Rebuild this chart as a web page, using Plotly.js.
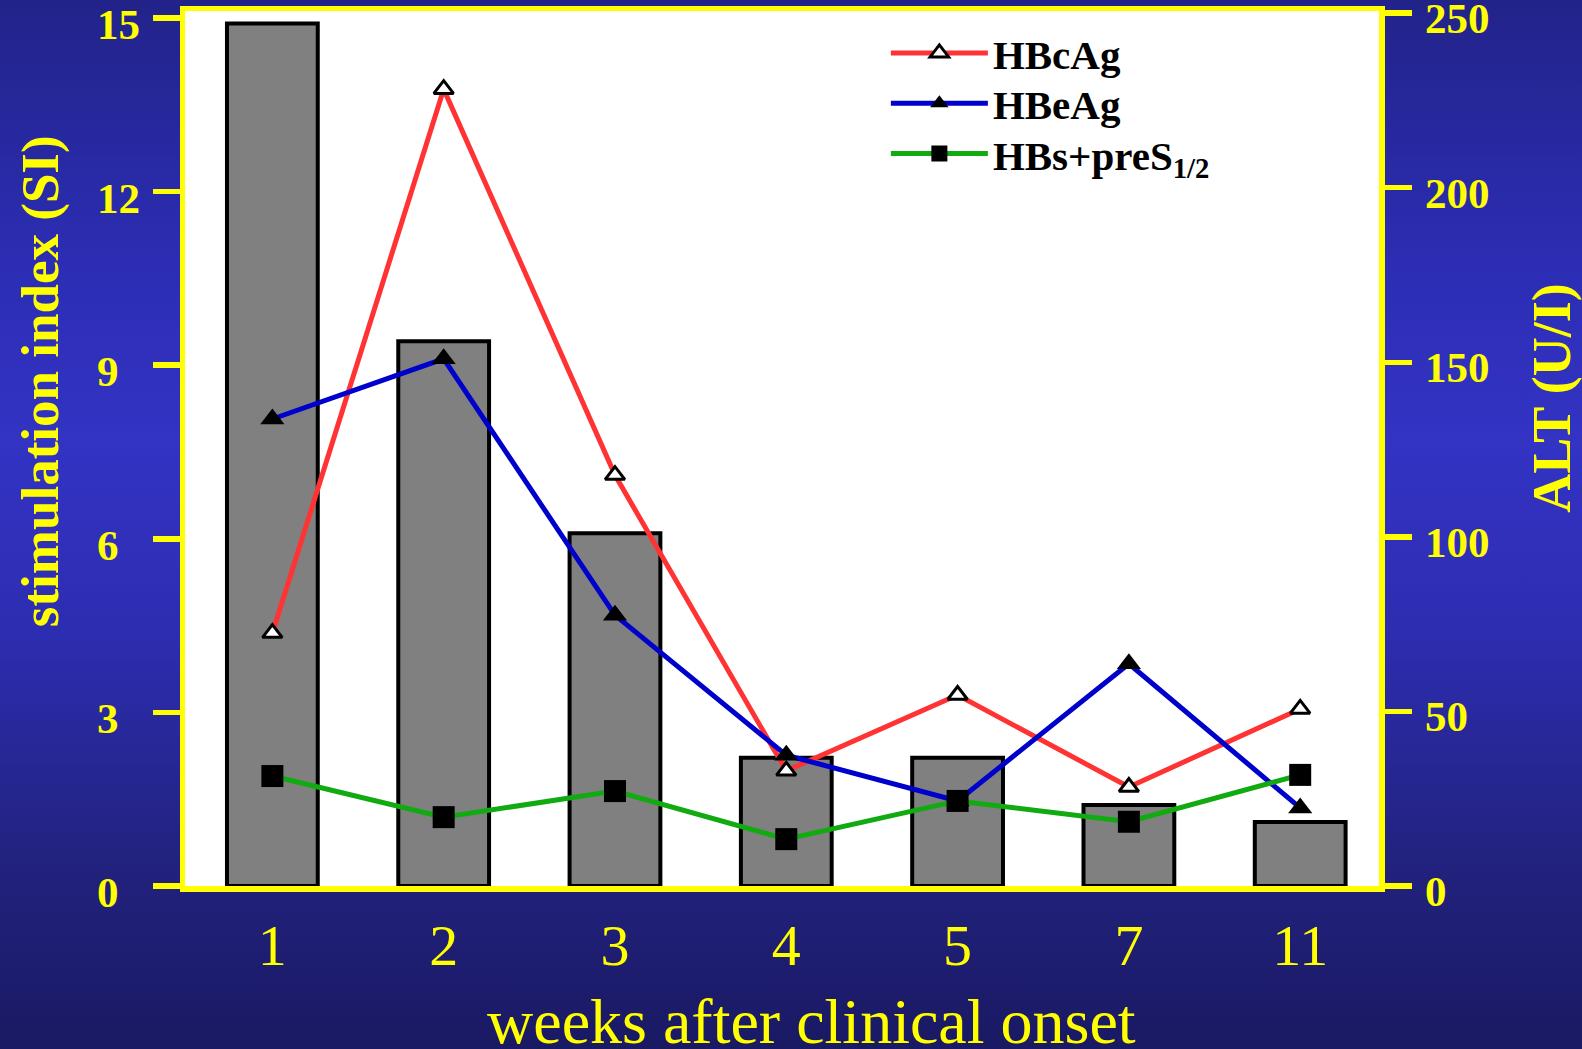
<!DOCTYPE html>
<html>
<head>
<meta charset="utf-8">
<script src="https://cdn.plot.ly/plotly-3.0.1.min.js"></script>
<style>
  html, body { margin: 0; padding: 0; overflow: hidden; }
  body {
    width: 1582px; height: 1049px;
    background: linear-gradient(to bottom, #222389 0%, #2c2db4 25%, #3333c4 42%, #2d2db2 60%, #22227f 82%, #1a1963 100%);
  }
  #chart { width: 1582px; height: 1049px; }
</style>
</head>
<body>
<div id="chart"></div>
<script>
// weeks after clinical onset (category labels)
const weeks = ['1', '2', '3', '4', '5', '7', '11'];
// ALT (U/l) – bars, right axis
const altValues = [247, 156, 101, 36.7, 36.7, 23.2, 18.3];
// stimulation index (SI) – lines, left axis
const hbcag = [4.37, 13.77, 7.10, 1.99, 3.30, 1.71, 3.06];
const hbeag = [8.07, 9.11, 4.68, 2.26, 1.47, 3.84, 1.35];
const hbsPreS = [1.90, 1.19, 1.64, 0.81, 1.47, 1.11, 1.92];

const seriesNames = ['HBcAg', 'HBeAg', 'HBs+preS<sub>1/2</sub>'];

// axis ticks and titles
const siTicks = [0, 3, 6, 9, 12, 15];
const siTickLabels = ['0', '3', '6', '9', '12', '15'];
const altTicks = [0, 50, 100, 150, 200, 250];
const altTickLabels = ['0', '50', '100', '150', '200', '250'];
const xTitle = 'weeks after clinical onset';
const leftTitle = 'stimulation index (SI)';
const rightTitle = 'ALT (U/I)';

const YELLOW = '#ffff00';
const SERIF = 'Liberation Serif, Times New Roman, serif';

// left labels in the original sit left-aligned: pad single digits with a figure space
const siTickText = siTickLabels.map(s => s.length === 1 ? s + '\u2007' : s);

const traces = [
  {
    type: 'bar', x: weeks, y: altValues, yaxis: 'y', width: 0.53,
    marker: { color: '#808080', line: { color: '#000000', width: 4 } },
    showlegend: false, hoverinfo: 'y'
  },
  {
    type: 'scatter', mode: 'lines+markers', name: seriesNames[0],
    x: weeks, y: hbcag, yaxis: 'y2', legend: 'legend',
    line: { color: '#ff3333', width: 5 },
    marker: { symbol: 'triangle-up', size: 17, color: '#ffffff', line: { color: '#000000', width: 3 } }
  },
  {
    type: 'scatter', mode: 'lines+markers', name: seriesNames[1],
    x: weeks, y: hbeag, yaxis: 'y2', legend: 'legend2',
    line: { color: '#0000cc', width: 5 },
    marker: { symbol: 'triangle-up', size: 21, color: '#000000' }
  },
  {
    type: 'scatter', mode: 'lines+markers', name: seriesNames[2],
    x: weeks, y: hbsPreS, yaxis: 'y2', legend: 'legend3',
    line: { color: '#11aa11', width: 5 },
    marker: { symbol: 'square', size: 22, color: '#000000' }
  }
];

function legendAt(y) {
  return {
    x: 0.587, y: y, xanchor: 'left', yanchor: 'top',
    bgcolor: 'rgba(0,0,0,0)', borderwidth: 0,
    font: { family: SERIF, size: 41, color: '#000000', weight: 'bold' },
    itemwidth: 97
  };
}

const layout = {
  width: 1582, height: 1049,
  margin: { l: 185, r: 203, t: 11, b: 163, pad: 0 },
  paper_bgcolor: 'rgba(0,0,0,0)',
  plot_bgcolor: '#ffffff',
  showlegend: true,
  legend: legendAt(0.990),
  legend2: legendAt(0.9326),
  legend3: legendAt(0.8750),
  xaxis: {
    type: 'category', range: [-0.51, 6.46],
    showline: true, linecolor: YELLOW, linewidth: 5.5, mirror: true,
    ticks: '', showgrid: false, zeroline: false, layer: 'below traces',
    tickfont: { family: SERIF, size: 58, color: YELLOW },
    ticklabelstandoff: 4,
    automargin: false, fixedrange: true
  },
  yaxis: {
    side: 'right', range: [0, 250.6],
    tickvals: altTicks, ticktext: altTickLabels, tickmode: 'array',
    showline: true, linecolor: YELLOW, linewidth: 5.5,
    ticks: 'outside', ticklen: 27, tickwidth: 5.5, tickcolor: YELLOW,
    showgrid: false, zeroline: false, ticklabeloverflow: 'allow',
    ticklabelstandoff: 5, ticklabelshift: 5,
    tickfont: { family: SERIF, size: 43, color: YELLOW, weight: 'bold' },
    automargin: false, fixedrange: true
  },
  yaxis2: {
    overlaying: 'y', side: 'left', range: [0, 15.12],
    tickvals: siTicks, ticktext: siTickText, tickmode: 'array',
    showline: true, linecolor: YELLOW, linewidth: 5.5,
    ticks: 'outside', ticklen: 27, tickwidth: 5.5, tickcolor: YELLOW,
    showgrid: false, zeroline: false, ticklabeloverflow: 'allow',
    ticklabelstandoff: 4, ticklabelshift: 6,
    tickfont: { family: SERIF, size: 43, color: YELLOW, weight: 'bold' },
    automargin: false, fixedrange: true
  },
  annotations: [
    {
      text: xTitle, xref: 'paper', yref: 'paper', x: 0.525, y: -0.155,
      xanchor: 'center', yanchor: 'middle', showarrow: false,
      font: { family: SERIF, size: 64, color: YELLOW }
    },
    {
      text: leftTitle, xref: 'paper', yref: 'paper', x: -0.1214, y: 0.577,
      xanchor: 'center', yanchor: 'middle', showarrow: false, textangle: -90,
      font: { family: SERIF, size: 53, color: YELLOW, weight: 'bold' }
    },
    {
      text: rightTitle, xref: 'paper', yref: 'paper', x: 1.1449, y: 0.558,
      xanchor: 'center', yanchor: 'middle', showarrow: false, textangle: -90,
      font: { family: SERIF, size: 54, color: YELLOW, weight: 'bold' }
    }
  ]
};

Plotly.newPlot('chart', traces, layout, { displayModeBar: false, staticPlot: true });
</script>
</body>
</html>
